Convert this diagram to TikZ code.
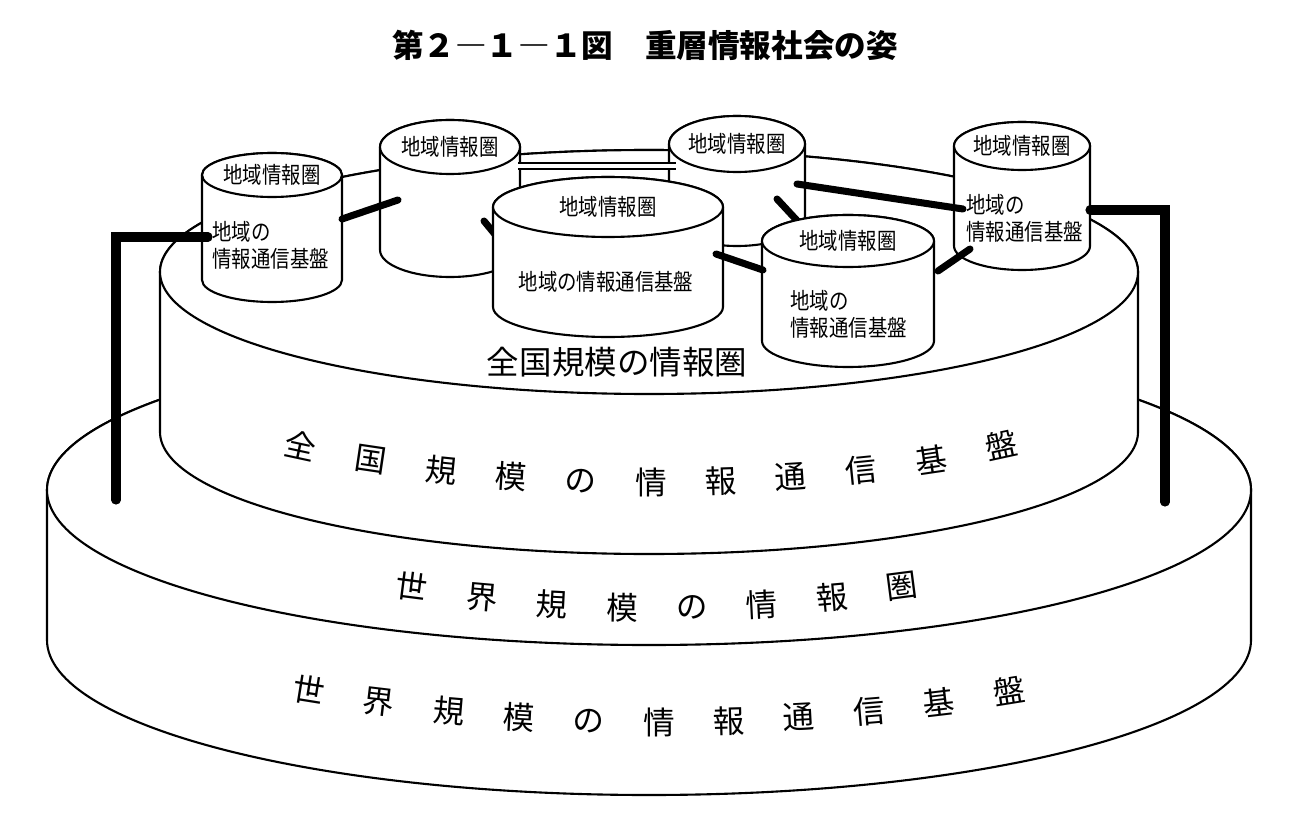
\documentclass[tikz,border=0pt]{standalone}
\usepackage{fontspec}
\setmainfont{Noto Sans CJK JP}
\newfontfamily\jpnarrow[FakeStretch=0.85]{Noto Sans CJK JP}

\begin{document}
\begin{tikzpicture}[
    x=0.02cm, y=-0.02cm,
    cyl/.style={line width=1.2pt, fill=white, line join=round},
    trunk/.style={line width=5.2pt, line cap=round},
    link/.style={line width=4pt, line cap=round},
    band/.style={line width=1pt, double, double distance=2.4pt},
    small/.style={inner sep=0pt, font={\jpnarrow\fontsize{13}{15.5}\selectfont}},
    spaced/.style={inner sep=0pt, font={\fontsize{18}{20}\selectfont}},
  ]
    \fill[white] (0,0) rectangle (1294,814);
    \useasboundingbox (0,0) rectangle (1294,814);
    \node[font={\bfseries\fontsize{18}{20}\selectfont}] (title) at (645,45) {第２―１―１図　重層情報社会の姿};
    % world layer
    \filldraw[cyl] (47,490) -- (47,640) arc[start angle=180, end angle=0, x radius=602, y radius=155]
          -- (1251,490) arc[start angle=0, end angle=-180, x radius=602, y radius=155] -- cycle;
    \draw[cyl] (649,490) ellipse [x radius=602, y radius=155];
    % national layer
    \filldraw[cyl] (160,272) -- (160,432) arc[start angle=180, end angle=0, x radius=489, y radius=122]
          -- (1138,272) arc[start angle=0, end angle=-180, x radius=489, y radius=122] -- cycle;
    \draw[cyl] (649,272) ellipse [x radius=489, y radius=122];
    % regional drums, back row
    \foreach \n/\cx/\ty/\by/\rx/\ry in {c1/272/175/280/70/22, c2/450/147/250/70/27,
                                        c4/737/144/218/68/28, c6/1022/146/246/68/24} {
      \filldraw[cyl] (\cx-\rx,\ty) -- (\cx-\rx,\by) arc[start angle=180, end angle=0, x radius=\rx, y radius=\ry]
            -- (\cx+\rx,\ty) arc[start angle=0, end angle=-180, x radius=\rx, y radius=\ry] -- cycle;
      \draw[cyl] (\cx,\ty) ellipse [x radius=\rx, y radius=\ry];
      \coordinate (\n) at (\cx,\ty);
    }
    % attachment points
    \coordinate (c1w) at (208,237);  \coordinate (c1e) at (342,219);
    \coordinate (c2w) at (398,200);  \coordinate (c2e) at (518,166);  \coordinate (c2s) at (484,221);
    \coordinate (c4w) at (676,166);  \coordinate (c4e) at (797,184);  \coordinate (c4s) at (777,199);
    \coordinate (c6w) at (963,209);  \coordinate (c6e) at (1090,210); \coordinate (c6s) at (970,249);
    \coordinate (c3n) at (503,244);  \coordinate (c3e) at (716,254);
    \coordinate (c5n) at (803,227);  \coordinate (c5w) at (763,270);  \coordinate (c5e) at (938,271);
    \coordinate (wl) at (116,500);   \coordinate (wr) at (1165,502);
    % links behind the front drums
    \draw[link] (c1e) -- (c2w);
    \draw[band] (c2e) -- (c4w);
    \draw[link] (c2s) -- (c3n);
    \draw[link] (c4s) -- (c5n);
    \draw[link] (c4e) -- (c6w);
    \draw[trunk] (c1w) -| (wl);
    \draw[trunk] (c6e) -| (wr);
    \node[small] (c1top) at (c1) {地域情報圏};
    \node[small] (c2top) at (c2) {地域情報圏};
    \node[small] (c4top) at (c4) {地域情報圏};
    \node[small] (c6top) at (c6) {地域情報圏};
    \node[small, align=left, anchor=west] (c1base) at (212,245) {地域の\\情報通信基盤};
    \node[small, align=left, anchor=west] (c6base) at (966,218) {地域の\\情報通信基盤};
    % regional drums, front row
    \foreach \n/\cx/\ty/\by/\rx/\ry in {c3/608/207/307/115/30, c5/848/241/341/86/26} {
      \filldraw[cyl] (\cx-\rx,\ty) -- (\cx-\rx,\by) arc[start angle=180, end angle=0, x radius=\rx, y radius=\ry]
            -- (\cx+\rx,\ty) arc[start angle=0, end angle=-180, x radius=\rx, y radius=\ry] -- cycle;
      \draw[cyl] (\cx,\ty) ellipse [x radius=\rx, y radius=\ry];
      \coordinate (\n) at (\cx,\ty);
    }
    \draw[link] (c3e) -- (c5w);
    \draw[link] (c5e) -- (c6s);
    \node[small] (c3top) at (c3) {地域情報圏};
    \node[small] (c5top) at (c5) {地域情報圏};
    \node[small] (c3base) at (606,282) {地域の情報通信基盤};
    \node[small, align=left, anchor=west] (c5base) at (790,314) {地域の\\情報通信基盤};
    % layer labels
    \node[font={\fontsize{18.5}{20}\selectfont}] (natsphere) at (617,362) {全国規模の情報圏};
    \foreach \ch [count=\i] in {全,国,規,模,の,情,報,通,信,基,盤} {
      \pgfmathsetmacro\u{(\i-6)*70/489}
      \pgfmathsetmacro\yy{360+122*sqrt(1-\u*\u)}
      \pgfmathsetmacro\rot{0.85*atan(122*\u/(489*sqrt(1-\u*\u)))}
      \node[spaced, rotate=\rot] (nat\i) at ({651+(\i-6)*70},\yy) {\ch};
    }
    \foreach \ch [count=\i] in {世,界,規,模,の,情,報,圏} {
      \pgfmathsetmacro\u{(\i-4.5)*70/602}
      \pgfmathsetmacro\yy{358+250*sqrt(1-\u*\u)}
      \pgfmathsetmacro\rot{0.7*atan(250*\u/(602*sqrt(1-\u*\u)))}
      \node[spaced, rotate=\rot] (wsph\i) at ({657+(\i-4.5)*70},\yy) {\ch};
    }
    \foreach \ch [count=\i] in {世,界,規,模,の,情,報,通,信,基,盤} {
      \pgfmathsetmacro\u{(\i-6)*70/602}
      \pgfmathsetmacro\yy{552+170*sqrt(1-\u*\u)}
      \pgfmathsetmacro\rot{0.8*atan(170*\u/(602*sqrt(1-\u*\u)))}
      \node[spaced, rotate=\rot] (wbase\i) at ({659+(\i-6)*70},\yy) {\ch};
    }
  \end{tikzpicture}
\end{document}
